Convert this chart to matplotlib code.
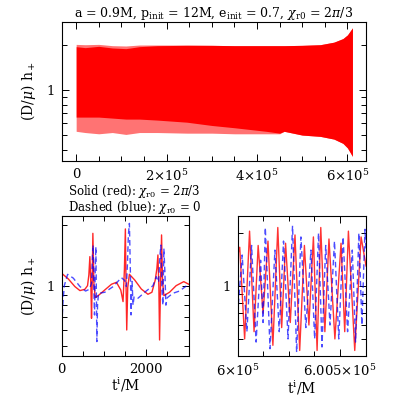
import matplotlib
matplotlib.use("Agg")
import matplotlib.pyplot as plt
from matplotlib.ticker import FixedLocator, MultipleLocator, NullFormatter

plt.rcParams['font.family'] = ['DejaVu Serif']
plt.rcParams['mathtext.fontset'] = 'dejavuserif'

# ---------------- data ----------------
# Top panel: envelope of the dense waveform (red band)
t_env = [0, 2.0e4, 5.0e4, 8.0e4, 1.1e5, 1.4e5, 1.8e5, 2.45e5, 3.0e5, 3.5e5,
         4.2e5, 4.5e5, 4.6e5, 5.0e5, 5.4e5, 5.7e5, 5.9e5, 6.0e5, 6.11e5]
upper_outer = [2.03, 2.02, 2.03, 1.99, 1.98, 2.01, 2.01, 2.01, 2.0, 1.99,
               1.99, 1.99, 1.99, 2.0, 2.02, 2.1, 2.22, 2.35, 2.62]
upper_inner = [1.96, 1.93, 1.97, 1.92, 1.9, 1.96, 1.99, 2.0, 2.0, 1.99,
               1.99, 1.99, 1.99, 2.0, 2.02, 2.1, 2.22, 2.35, 2.62]
lower_outer = [0.53, 0.52, 0.51, 0.52, 0.505, 0.52, 0.52, 0.515, 0.515, 0.51,
               0.51, 0.51, 0.53, 0.5, 0.49, 0.47, 0.44, 0.41, 0.36]
lower_inner = [0.66, 0.66, 0.66, 0.65, 0.64, 0.64, 0.63, 0.61, 0.58, 0.56,
               0.53, 0.515, 0.53, 0.5, 0.49, 0.47, 0.44, 0.41, 0.36]

# Bottom-left: early waveform (t^i / M)
red_t = [0, 156, 313, 431, 548, 611, 642, 666, 690, 705, 721, 737, 760, 791,
         862, 1019, 1176, 1294, 1396, 1450, 1482, 1505, 1521, 1537, 1561, 1600,
         1725, 1882, 2038, 2132, 2211, 2250, 2274, 2297, 2313, 2336, 2360, 2383,
         2415, 2548, 2705, 2885, 3003]
red_h = [1.152, 1.08, 0.989, 0.945, 0.959, 1.0, 1.13, 1.394, 1.0, 0.688, 1.04,
         1.82, 1.04, 0.872, 0.892, 0.952, 1.016, 1.039, 0.952, 0.833, 1.2, 1.914,
         1.0, 0.602, 0.98, 1.139, 1.067, 0.962, 0.906, 0.927, 1.067, 1.22, 1.421,
         0.98, 0.537, 1.03, 1.787, 1.05, 0.892, 0.927, 1.0, 1.047, 1.016]

blue_t = [0, 7, 15, 31, 62, 140, 274, 431, 564, 658, 705, 729, 745, 760, 776,
          792, 807, 823, 831, 847, 870, 1019, 1215, 1411, 1490, 1529, 1553, 1576,
          1600, 1623, 1639, 1663, 1686, 1710, 1804, 1961, 2157, 2236, 2291, 2322,
          2344, 2368, 2391, 2415, 2438, 2462, 2493, 2626, 2783, 2925, 3003]
blue_h = [2.0, 1.2, 0.715, 0.83, 1.0, 1.138, 1.09, 0.99, 0.94, 0.96, 1.03, 1.42,
          1.59, 0.96, 0.715, 1.18, 1.56, 0.8, 0.527, 0.8, 0.916, 0.927, 0.989,
          1.096, 1.06, 0.99, 1.27, 1.787, 2.04, 1.18, 0.715, 1.05, 0.8, 0.88,
          0.866, 0.927, 1.0, 1.108, 1.04, 1.42, 1.59, 0.96, 0.8, 1.53, 1.18, 0.8,
          0.87, 0.916, 0.94, 0.989, 1.016]

# Bottom-right: late waveform (t^i / M)
red2_t = [600000, 600010, 600034, 600058, 600080, 600100, 600124, 600148,
          600172, 600196, 600215, 600234, 600257, 600280, 600303, 600326,
          600348, 600370, 600388, 600406, 600426, 600446, 600475, 600505,
          600523, 600541, 600572, 600603, 600627]
red2_h = [1.5, 1.66, 0.50, 2.05, 0.55, 1.70, 0.70, 1.80, 0.46, 2.15, 0.58,
          1.75, 0.62, 1.95, 0.43, 1.70, 0.60, 1.90, 0.43, 2.15, 0.55, 1.85,
          0.50, 1.75, 0.55, 2.05, 0.43, 1.90, 1.3]

blue2_t = [600000, 600022, 600045, 600068, 600090, 600112, 600124, 600135,
           600158, 600182, 600203, 600224, 600246, 600268, 600288, 600309,
           600333, 600358, 600376, 600395, 600412, 600430, 600451, 600473,
           600494, 600515, 600537, 600560, 600576, 600592, 600607, 600622,
           600627]
blue2_h = [0.7, 1.5, 0.55, 1.7, 0.48, 1.4, 0.62, 2.15, 0.44, 1.6, 0.55, 1.8,
           0.5, 2.2, 0.42, 1.9, 0.58, 1.6, 0.5, 2.0, 0.45, 1.7, 0.6, 1.8, 0.5,
           1.9, 0.55, 1.6, 0.48, 2.0, 0.6, 2.1, 1.6]

title_txt = r'a = 0.9M, p$_{\rm init}$ = 12M, e$_{\rm init}$ = 0.7, $\chi_{\rm r0}$ = 2$\pi$/3'
ylabel_txt = r'(D/$\mu$) h$_+$'
xlabel_txt = r't$^{\rm i}$/M'
legend1 = r'Solid (red): $\chi_{\rm r0}$ = 2$\pi$/3'
legend2 = r'Dashed (blue): $\chi_{\rm r0}$ = 0'

# ---------------- figure ----------------
fig = plt.figure(figsize=(3.99, 3.99), dpi=100)
ax1 = fig.add_axes([0.1546, 0.5965, 0.7627, 0.349])
ax2 = fig.add_axes([0.1546, 0.1078, 0.3203, 0.3509])
ax3 = fig.add_axes([0.5957, 0.1078, 0.3216, 0.3509])

FS = 9.5

def style(ax, ylo, yhi):
    ax.set_yscale('log')
    ax.set_ylim(ylo, yhi)
    ax.yaxis.set_major_locator(FixedLocator([1]))
    ax.set_yticklabels(['1'])
    ax.yaxis.set_minor_locator(FixedLocator([0.3, 0.4, 0.5, 0.6, 0.7, 0.8, 0.9, 2, 3]))
    ax.yaxis.set_minor_formatter(NullFormatter())
    ax.tick_params(which='both', direction='in', top=True, right=True,
                   labelsize=FS, pad=5, width=0.7)
    ax.tick_params(which='major', length=5)
    ax.tick_params(which='minor', length=3.5)
    for s in ax.spines.values():
        s.set_linewidth(0.8)

# Top panel
ax1.fill_between(t_env, lower_outer, upper_outer, color=(1.0, 0.45, 0.45), lw=0)
ax1.fill_between(t_env, lower_inner, upper_inner, color='#ff0000', lw=0)
style(ax1, 0.335, 2.88)
ax1.set_xlim(-3.2e4, 6.41e5)
ax1.xaxis.set_major_locator(FixedLocator([0, 2e5, 4e5, 6e5]))
ax1.set_xticklabels(['0', r'2$\times$10$^5$', r'4$\times$10$^5$', r'6$\times$10$^5$'])
ax1.xaxis.set_minor_locator(MultipleLocator(5e4))
ax1.set_ylabel(ylabel_txt, fontsize=FS + 0.5, labelpad=6)
ax1.set_title(title_txt, fontsize=FS - 0.5, pad=3)

# Bottom-left
ax2.plot(red_t, red_h, color='#ff0000', lw=1.0, alpha=0.85)
ax2.plot(blue_t, blue_h, color='#0000ff', lw=1.0, alpha=0.7, dashes=(4, 2.5))
style(ax2, 0.447, 2.22)
ax2.set_xlim(0, 3020)
ax2.xaxis.set_major_locator(FixedLocator([0, 2000]))
ax2.set_xticklabels(['0', '2000'])
ax2.xaxis.set_minor_locator(MultipleLocator(500))
ax2.set_ylabel(ylabel_txt, fontsize=FS + 0.5, labelpad=6)
ax2.set_xlabel(xlabel_txt, fontsize=FS + 0.5, labelpad=0)

# Bottom-right
ax3.plot(red2_t, red2_h, color='#ff0000', lw=1.0, alpha=0.8)
ax3.plot(blue2_t, blue2_h, color='#0000ff', lw=1.0, alpha=0.7, dashes=(4, 2.5))
style(ax3, 0.40, 2.5)
ax3.set_xlim(6.0e5, 6.00627e5)
ax3.xaxis.set_major_locator(FixedLocator([6.0e5, 6.005e5]))
ax3.set_xticklabels([r'6$\times$10$^5$', r'6.005$\times$10$^5$'])
ax3.xaxis.set_minor_locator(MultipleLocator(125))
ax3.set_xlabel(xlabel_txt, fontsize=FS + 0.5, labelpad=0)

fig.text(0.170, 0.519, legend1, fontsize=FS - 1, va='center', ha='left')
fig.text(0.170, 0.479, legend2, fontsize=FS - 1, va='center', ha='left')

fig.savefig('out.png', dpi=100)
